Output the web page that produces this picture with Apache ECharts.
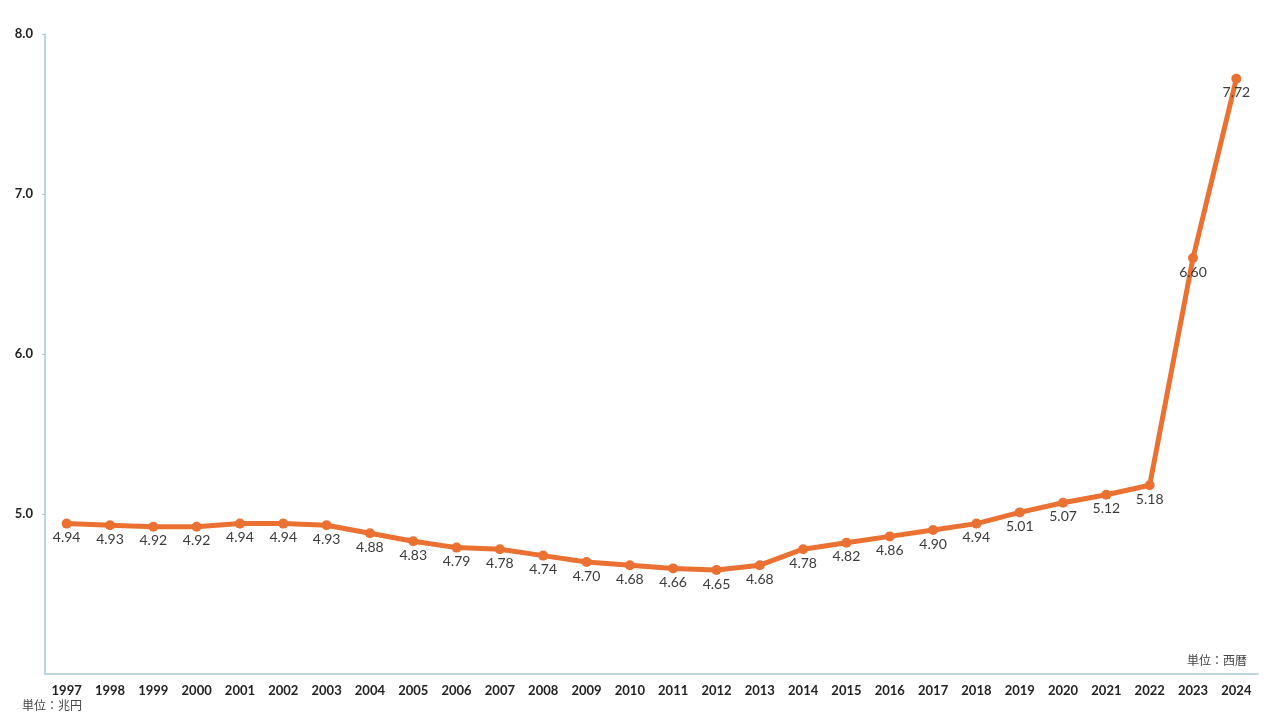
<!DOCTYPE html>
<html><head><meta charset="utf-8">
<script src="https://cdn.jsdelivr.net/npm/echarts@6/dist/echarts.min.js"></script>
<style>html,body{margin:0;padding:0;background:#fff}#c{width:1269px;height:724px}</style>
</head><body><div id="c"></div>
<script>
const years = ['1997','1998','1999','2000','2001','2002','2003','2004','2005','2006','2007','2008','2009','2010','2011','2012','2013','2014','2015','2016','2017','2018','2019','2020','2021','2022','2023','2024'];
const values = [4.94,4.93,4.92,4.92,4.94,4.94,4.93,4.88,4.83,4.79,4.78,4.74,4.70,4.68,4.66,4.65,4.68,4.78,4.82,4.86,4.90,4.94,5.01,5.07,5.12,5.18,6.60,7.72];
const unitY = '単位：兆円';
const unitX = '単位：西暦';
const chart = echarts.init(document.getElementById('c'));
const axisColor = '#a8c8d6';
chart.setOption({
  animation:false,
  grid:{left:45,right:11,top:34,bottom:50,containLabel:false},
  xAxis:{type:'category',data:years,boundaryGap:true,
    axisLine:{lineStyle:{color:axisColor,width:1.5}},
    axisTick:{show:false},
    axisLabel:{color:'#222',fontWeight:'bold',fontSize:13,margin:10,fontFamily:'Lato, Noto Sans, sans-serif',interval:0}},
  yAxis:{type:'value',min:4,max:8,interval:1,
    axisLine:{show:true,lineStyle:{color:axisColor,width:1.5}},
    axisTick:{show:true,length:3,lineStyle:{color:axisColor}},
    splitLine:{show:false},
    axisLabel:{showMinLabel:false,color:'#222',fontWeight:'bold',fontSize:13,margin:12,fontFamily:'Lato, Noto Sans, sans-serif',formatter:v=>v.toFixed(1)}},
  series:[{type:'line',data:values,symbol:'circle',symbolSize:10,
    itemStyle:{color:'#ea7132'},lineStyle:{color:'#ea7132',width:5},
    label:{show:true,position:'bottom',distance:2,color:'#3a3a3a',fontSize:14,fontFamily:'Lato, Noto Sans, sans-serif',formatter:p=>p.value.toFixed(2)}}],
  graphic:[
    {type:'text',left:22,top:699,style:{text:unitY,fill:'#444',fontSize:12,fontFamily:'Noto Sans CJK JP'}},
    {type:'text',right:22,top:654,style:{text:unitX,fill:'#444',fontSize:12,fontFamily:'Noto Sans CJK JP'}}
  ]
});
</script></body></html>
